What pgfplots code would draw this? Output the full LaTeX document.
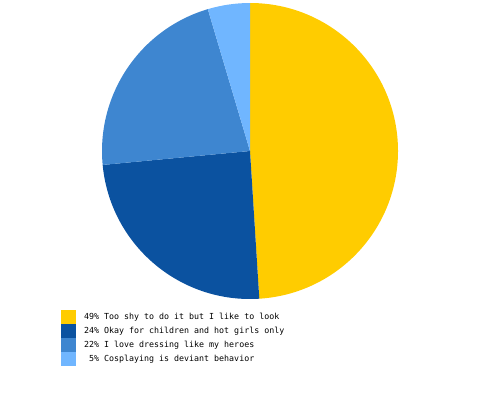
\documentclass[border=0pt]{standalone}
\usepackage{fontspec}
\usepackage{pgfplots}
\usepackage{pgfplotstable}
\pgfplotsset{compat=1.18}
\newfontfamily\legfont{DejaVu Sans Mono}

\definecolor{pie0}{RGB}{255,204,0}
\definecolor{pie1}{RGB}{11,82,160}
\definecolor{pie2}{RGB}{62,134,208}
\definecolor{pie3}{RGB}{112,182,255}

% shares in percent, clockwise from 12 o'clock
\pgfplotstableread{
share
49.0
24.5
21.9
4.6
}\piedata

\begin{document}
\begin{tikzpicture}
\begin{axis}[
    width=500bp, height=400bp,
    scale only axis,
    xmin=0, xmax=500, ymin=0, ymax=400,
    hide axis,
    legend image code/.code={\fill[draw=none,#1] (0bp,-7bp) rectangle (15bp,7bp);},
    legend cell align=left,
    legend style={
        at={(axis cs:61,90)}, anchor=north west,
        draw=none, fill=none, inner sep=0pt, outer sep=0pt,
        row sep=0pt,
        font=\legfont\fontsize{8.35}{10}\selectfont,
        nodes={inner sep=0pt, minimum height=14bp},
        /tikz/every odd column/.append style={column sep=8bp},
    },
]
\def\startang{90}
\pgfplotsforeachungrouped \i in {0,...,3}{%
    \pgfplotstablegetelem{\i}{share}\of\piedata
    \pgfmathsetmacro\endang{\startang-3.6*\pgfplotsretval}
    \pgfmathsetmacro\sx{250+148*cos(\startang)}
    \pgfmathsetmacro\sy{249+148*sin(\startang)}
    \edef\piewedge{\noexpand\fill[pie\i] (axis cs:250,249) -- (axis cs:\sx,\sy)
        arc[start angle=\startang, end angle=\endang, radius=148bp] -- cycle;}
    \piewedge
    \let\startang\endang
}
\addlegendimage{fill=pie0, draw=none}
\addlegendentry{49\% Too shy to do it but I like to look}
\addlegendimage{fill=pie1, draw=none}
\addlegendentry{24\% Okay for children and hot girls only}
\addlegendimage{fill=pie2, draw=none}
\addlegendentry{22\% I love dressing like my heroes}
\addlegendimage{fill=pie3, draw=none}
\addlegendentry{\phantom{0}5\% Cosplaying is deviant behavior}
\end{axis}
\path (current axis.south west) rectangle (current axis.north east);
\end{tikzpicture}
\end{document}
